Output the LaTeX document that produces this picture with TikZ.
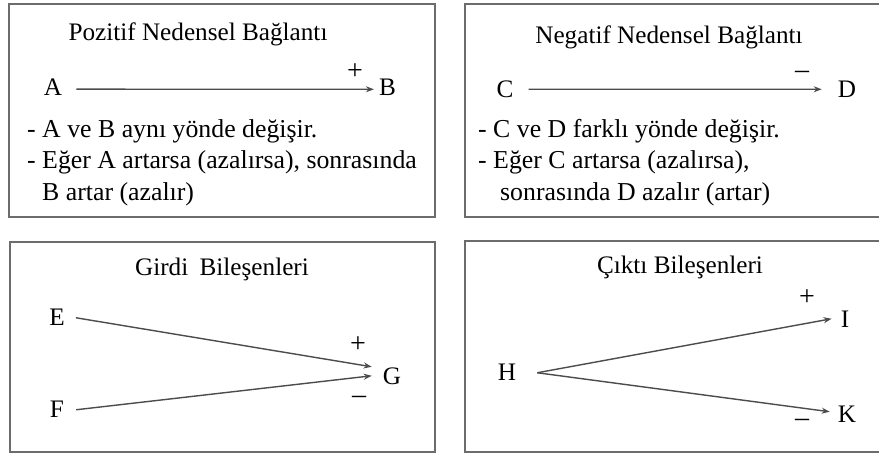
\documentclass[tikz,border=0pt]{standalone}
\usepackage{fontspec}
\setmainfont{Liberation Serif}
\newfontfamily\termsfont{Liberation Serif}
\usetikzlibrary{arrows.meta}
\begin{document}
\begin{tikzpicture}[x=1pt,y=-1pt,
  panel/.style={draw=gray!85!black, line width=1.8pt},
  txt/.style={inner sep=0pt, font=\termsfont\fontsize{25.2}{30}\selectfont},
  letter/.style={txt, anchor=base},
  title/.style={txt, anchor=base},
  bodytext/.style={anchor=base west, inner sep=0pt, font=\termsfont\fontsize{25.8}{30}\selectfont},
  sign/.style={anchor=base, inner sep=0pt, font=\termsfont\fontsize{28}{30}\selectfont},
  arr/.style={draw=black!70, line width=1.4pt, -{Stealth[length=8pt,width=6pt]}}]
\useasboundingbox (0,0) rectangle (879,455);
\fill[white] (0,0) rectangle (879,455);
% panels
\draw[panel] (9,4) rectangle (435,217);
\draw[panel] (465,4) rectangle (884,217);
\draw[panel] (10,242) rectangle (435,452);
\draw[panel] (465,241) rectangle (884,452);
% panel 1
\node[title] (t1) at (198,41) {Pozitif Nedensel Bağlantı};
\node[letter] (A) at (53,95) {A};
\node[letter] (B) at (387.5,95) {B};
\draw[arr] ([xshift=14pt,yshift=-2.5pt]A.east) -- ([xshift=-5pt,yshift=-2.5pt]B.west);
\node[sign] (p1) at (355,79.5) {+};
\node[bodytext] (l11) at (27,137) {- A ve B aynı yönde değişir.};
\node[bodytext] (l12) at (27,168) {- Eğer A artarsa (azalırsa), sonrasında};
\node[bodytext] (l13) at (42,200) {B artar (azalır)};
% panel 2
\node[title] (t2) at (669,43) {Negatif Nedensel Bağlantı};
\node[letter] (C) at (505,97) {C};
\node[letter] (D) at (847,97) {D};
\draw[arr] ([xshift=15pt,yshift=-0.5pt]C.east) -- ([xshift=-16pt,yshift=-0.5pt]D.west);
\node[sign] (m2) at (802,78) {–};
\node[bodytext] (l21) at (478,137) {- C ve D farklı yönde değişir.};
\node[bodytext] (l22) at (478,168) {- Eğer C artarsa (azalırsa),};
\node[bodytext] (l23) at (500,200) {sonrasında D azalır (artar)};
% panel 3
\node[title] (t3) at (222,275.5) {Girdi\hspace{0.2em} Bileşenleri};
\node[letter] (E) at (57,325) {E};
\node[letter] (F) at (57,417) {F};
\node[letter] (G) at (392,384) {G};
\draw[arr] ([xshift=11pt,yshift=-1pt]E.east) -- ([xshift=-11pt,yshift=9pt]G.west);
\draw[arr] ([xshift=12pt,yshift=-1pt]F.east) -- ([xshift=-11pt,yshift=0pt]G.west);
\node[sign] (p3) at (358,352.5) {+};
\node[sign] (m3) at (359,403.5) {–};
% panel 4
\node[title] (t4) at (680,273) {Çıktı Bileşenleri};
\node[letter] (H) at (507,380) {H};
\node[letter] (I) at (845,327) {I};
\node[letter] (K) at (847,422) {K};
\draw[arr] ([xshift=21pt,yshift=-1pt]H.east) -- ([xshift=-9pt]I.west);
\draw[arr] ([xshift=21pt,yshift=-1pt]H.east) -- ([xshift=-8pt,yshift=2pt]K.west);
\node[sign] (p4) at (807,305.5) {+};
\node[sign] (m4) at (802,426.5) {–};
\end{tikzpicture}
\end{document}
